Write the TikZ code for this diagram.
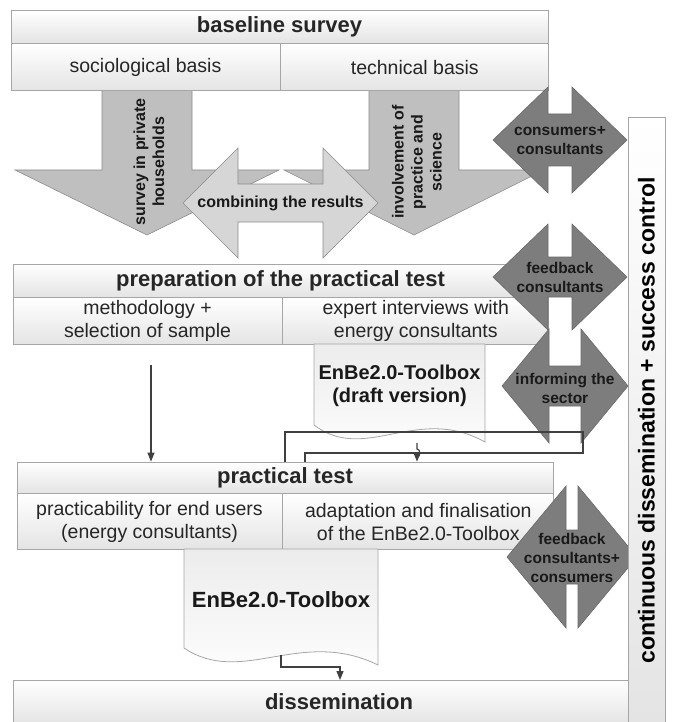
\documentclass[tikz,border=0pt]{standalone}
\usepackage{fontspec}
\setmainfont{Liberation Sans}
\usetikzlibrary{arrows.meta,positioning}

\definecolor{boxline}{HTML}{A6A6A6}
\definecolor{boxfill}{HTML}{E4E4E4}
\definecolor{arrowfill}{HTML}{BFBFBF}
\definecolor{arrowline}{HTML}{8C8C8C}
\definecolor{combfill}{HTML}{D6D6D6}
\definecolor{darkfill}{HTML}{7D7D7D}
\definecolor{darkline}{HTML}{6A6A6A}
\definecolor{connline}{HTML}{404040}

\newcommand{\hdrfont}{\fontsize{22}{24}\bfseries\selectfont}
\newcommand{\cellfont}{\fontsize{19.5}{23}\selectfont}
\newcommand{\lblfont}{\fontsize{15.5}{19}\bfseries\selectfont}
\newcommand{\arrowfont}{\fontsize{16}{19}\bfseries\selectfont}
\newcommand{\barfont}{\fontsize{23}{26}\bfseries\selectfont}
\newcommand{\docfont}{\fontsize{20}{23}\bfseries\selectfont}

% down arrow: cx, top, shaft half, head base, head half, tip
\newcommand{\blockdown}[6]{%
  \draw[bigarrow] ({#1-#3},#2) -- ({#1+#3},#2) -- ({#1+#3},#4) -- ({#1+#5},#4)
    -- (#1,#6) -- ({#1-#5},#4) -- ({#1-#3},#4) -- cycle;}
% double arrow: style, left tip, right tip, cy, head length, head half, shaft half
\newcommand{\blockdouble}[7][]{%
  \draw[#1] (#2,#4) -- ({#2+#5},{#4-#6}) -- ({#2+#5},{#4-#7}) -- ({#3-#5},{#4-#7})
    -- ({#3-#5},{#4-#6}) -- (#3,#4) -- ({#3-#5},{#4+#6}) -- ({#3-#5},{#4+#7})
    -- ({#2+#5},{#4+#7}) -- ({#2+#5},{#4+#6}) -- cycle;}
% document: left, top, right, bottom
\newcommand{\docshape}[4]{%
  \draw[doc] (#1,#2) -- (#3,#2) -- (#3,#4)
    .. controls ({#1+0.6*(#3-#1)},{#4-38}) and ({#1+0.3*(#3-#1)},{#4+22}) .. (#1,{#4-17}) -- cycle;}

\begin{document}
\begin{tikzpicture}[x=1pt,y=-1pt,
  box/.style={draw=boxline, line width=0.8pt, top color=white, bottom color=boxfill,
    inner sep=0pt, align=center, text=black!85},
  hdr/.style={box, font=\hdrfont, minimum height=33pt},
  cell/.style={box, font=\cellfont, minimum height=47pt},
  bigarrow/.style={draw=arrowline, fill=arrowfill, line width=0.6pt},
  combarrow/.style={draw=arrowline, fill=combfill, line width=0.6pt},
  darkarrow/.style={draw=darkline, fill=darkfill, line width=0.6pt},
  doc/.style={draw=boxline, line width=0.8pt, top color=boxfill!70, bottom color=white},
  lbl/.style={font=\lblfont, align=center, text=black!90, inner sep=0pt},
  conn/.style={draw=connline, line width=1.2pt},
  arr/.style={conn, -{Triangle[length=9pt,width=7pt]}}]
\useasboundingbox (0,0) rectangle (673,722);

\blockdown{147}{90}{45}{170}{132}{235}
\blockdown{414}{90}{45}{170}{130}{235}
\blockdouble[combarrow]{183}{378}{203}{55}{55}{19}

\node[hdr, minimum width=537pt] (base) at (279.5,26.5) {baseline survey};
\node[cell, minimum width=269pt, anchor=north west] (socio) at (base.south west) {sociological basis};
\node[cell, minimum width=268pt, anchor=north west] (tech) at (socio.north east) {technical basis};

\node[lbl, font=\arrowfont, rotate=90] (survey) at (149,162) {survey in private\\households};
\node[lbl, font=\arrowfont, rotate=90] (involve) at (417,162) {involvement of\\practice and\\science};
\node[lbl, font=\arrowfont] (combine) at (280.5,203) {combining the results};

\node[hdr, minimum width=535pt] (prep) at (280.5,280.5) {preparation of the practical test};
\node[cell, minimum width=269pt, anchor=north west] (meth) at (prep.south west) {methodology +\\selection of sample};
\node[cell, minimum width=266pt, anchor=north west] (expert) at (meth.north east) {expert interviews with\\energy consultants};

\docshape{314}{344}{485}{442}
\node[lbl, font=\docfont] (draft) at (399.5,386) {EnBe2.0-Toolbox\\(draft version)};

\node[hdr, minimum width=536pt, minimum height=31pt] (ptest) at (285,477.5) {practical test};
\node[cell, minimum width=265pt, minimum height=56pt, anchor=north west] (usab) at (ptest.south west) {practicability for end users\\(energy consultants)};
\node[cell, minimum width=271pt, minimum height=56pt, anchor=north west] (adapt) at (usab.north east) {adaptation and finalisation\\of the EnBe2.0-Toolbox};

\docshape{184}{549}{378}{665}
\node[lbl, font=\hdrfont] (toolbox) at (281,600) {EnBe2.0-Toolbox};

\node[hdr, minimum width=652pt, minimum height=44pt] (dissem) at (339,702) {dissemination};

\blockdouble[darkarrow]{493}{627}{140}{55}{53}{26}
\blockdouble[darkarrow]{493}{627}{277}{55}{53}{20}
\blockdouble[darkarrow]{502}{628}{386}{47}{57}{20}
\blockdouble[darkarrow]{507}{637}{557}{59}{71}{27}

\node[box, rotate=90, font=\barfont, text=black, minimum width=607pt, minimum height=37pt] (bar) at (646.5,420.5) {continuous dissemination + success control};

\node[lbl] (consA) at (560,141) {consumers+\\consultants};
\node[lbl] (feedB) at (560,277.5) {feedback\\consultants};
\node[lbl] (infoC) at (565,388) {informing the\\sector};
\node[lbl] (feedD) at (572,558) {feedback\\consultants+\\consumers};

\coordinate (infoA) at (583,432);
\coordinate (infoB) at (583,453);
\draw[conn] (ptest.north) |- (infoA) -- (infoB) -| ([xshift=20pt]ptest.north);

\coordinate (methout) at (151,365);
\draw[arr] (methout) -- (methout |- ptest.north);

\coordinate (draftout) at (417,443);
\draw[arr] (draftout) -- ++(0,6) to[bend left=90, looseness=1.2] ++(0,8) -- (draftout |- ptest.north);

\coordinate (tbout) at (281,655);
\coordinate (tbin) at (340,680);
\draw[arr] (tbout) |- ([yshift=13pt]tbin) -- (tbin);
\end{tikzpicture}
\end{document}
